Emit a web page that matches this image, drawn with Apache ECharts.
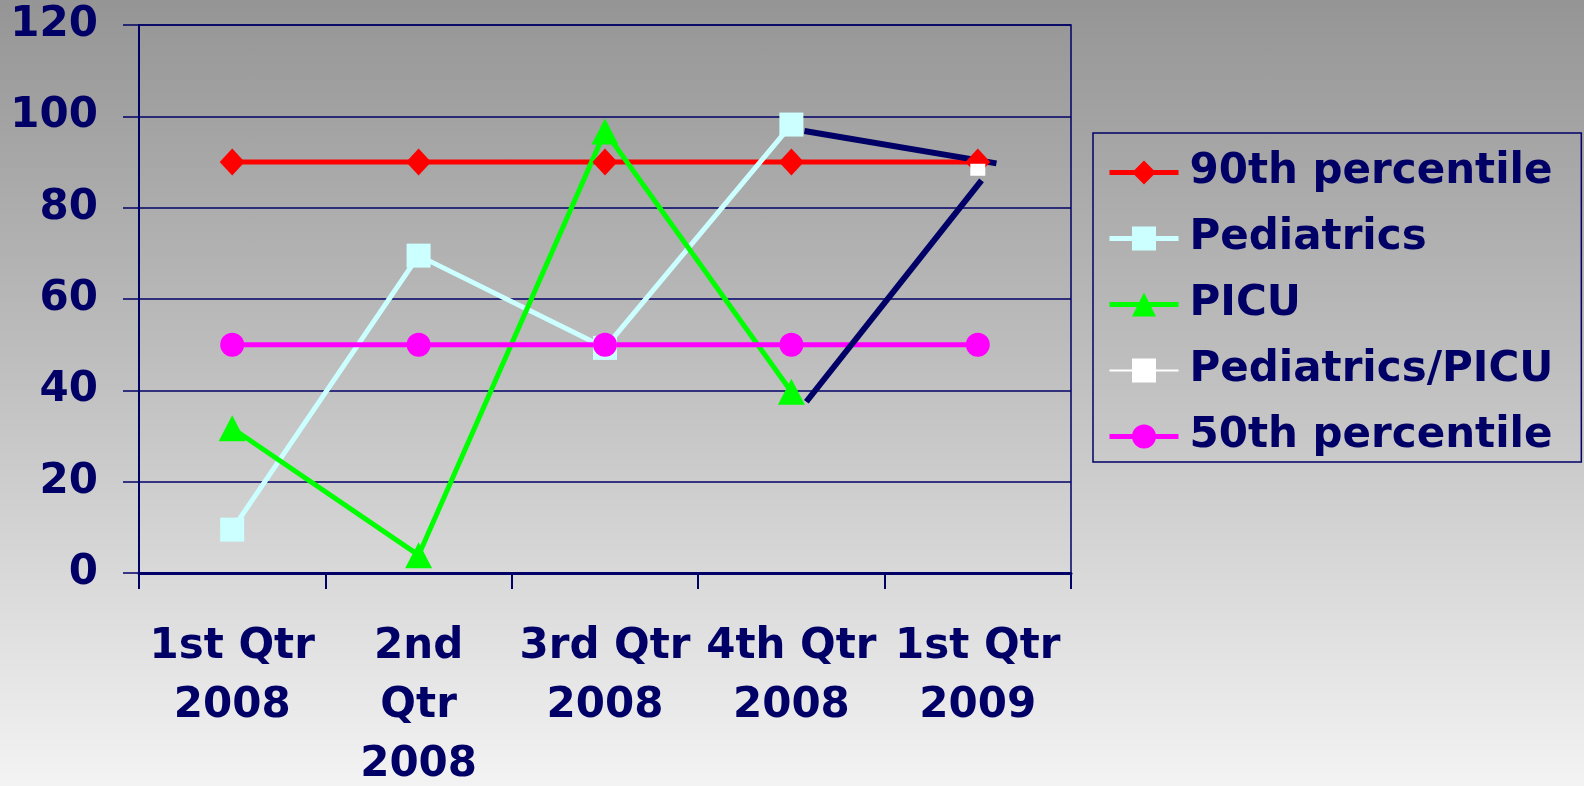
<!DOCTYPE html>
<html>
<head>
<meta charset="utf-8">
<script src="https://cdn.jsdelivr.net/npm/echarts@6/dist/echarts.min.js"></script>
<style>
  html, body { margin: 0; padding: 0; }
  body { width: 1584px; height: 786px; background: linear-gradient(to bottom, #959595 0%, #bdbdbd 45%, #f3f3f3 100%); }
  #chart { width: 1584px; height: 786px; }
</style>
</head>
<body>
<div id="chart"></div>
<script>
const categories = ['1st Qtr\n2008', '2nd\nQtr\n2008', '3rd Qtr\n2008', '4th Qtr\n2008', '1st Qtr\n2009'];
const seriesNames = ['90th percentile', 'Pediatrics', 'PICU', 'Pediatrics/PICU', '50th percentile'];
const p90 = [90, 90, 90, 90, 90];
const pediatrics = [9.5, 69.5, 49.3, 98.2, null];
const picu = [31.7, 3.9, 96.7, 39.7, null];
const pedPicu = [null, null, null, null, 88.3];
const p50 = [50, 50, 50, 50, 50];
const yMin = 0, yMax = 120, yStep = 20;
// two hand-drawn connector lines, in category units (0..5) and values
const connector1 = [[3.57, 96.8], [4.60, 89.7]];
const connector2 = [[3.58, 37.5], [4.52, 86.0]];

const navy = '#000066';
const font = "'DejaVu Sans', Verdana, sans-serif";

const chart = echarts.init(document.getElementById('chart'), null, { renderer: 'canvas' });
chart.setOption({
  backgroundColor: 'transparent',
  animation: false,
  textStyle: { fontFamily: font },
  grid: { left: 139, top: 25, right: 513, bottom: 213, show: true, borderColor: navy, borderWidth: 1.5,
          backgroundColor: 'transparent', containLabel: false, outerBoundsMode: 'none' },
  legend: {
    orient: 'vertical',
    left: 1093, top: 133,
    padding: [18, 28, 4, 14],
    borderColor: navy, borderWidth: 1.5,
    itemWidth: 69, itemHeight: 30, itemGap: 23,
    data: seriesNames,
    lineStyle: { width: 'inherit' },
    textStyle: { color: navy, fontSize: 42, fontWeight: 'bold', fontFamily: font, lineHeight: 40, padding: [3, 0, 0, 6] }
  },
  xAxis: [{
    type: 'category',
    data: categories,
    axisLine: { lineStyle: { color: navy, width: 3 } },
    axisTick: { show: true, length: 16, lineStyle: { color: navy, width: 2 } },
    axisLabel: { color: navy, fontSize: 42, fontWeight: 'bold', fontFamily: font, lineHeight: 59, margin: 45, interval: 0 }
  }, {
    type: 'value', min: 0, max: 5, show: false
  }],
  yAxis: {
    type: 'value', min: yMin, max: yMax, interval: yStep,
    axisLine: { show: true, lineStyle: { color: navy, width: 2 } },
    axisTick: { show: true, length: 16, lineStyle: { color: navy, width: 1.5 } },
    splitLine: { show: true, lineStyle: { color: navy, width: 1.5 } },
    axisLabel: { color: navy, fontSize: 42, fontWeight: 'bold', fontFamily: font, margin: 41 }
  },
  series: [
    { name: seriesNames[0], type: 'line', data: p90, symbol: 'diamond', symbolSize: [25, 27],
      itemStyle: { color: '#ff0000' }, lineStyle: { color: '#ff0000', width: 5 } },
    { name: seriesNames[1], type: 'line', data: pediatrics, symbol: 'rect', symbolSize: 24,
      itemStyle: { color: '#ccffff' }, lineStyle: { color: '#ccffff', width: 5 } },
    { name: seriesNames[2], type: 'line', data: picu, symbol: 'triangle', symbolSize: [27, 26],
      itemStyle: { color: '#00ff00' }, lineStyle: { color: '#00ff00', width: 5 } },
    { name: seriesNames[4], type: 'line', data: p50, symbol: 'circle', symbolSize: 24,
      itemStyle: { color: '#ff00ff' }, lineStyle: { color: '#ff00ff', width: 5 } },
    { name: 'conn1', type: 'line', xAxisIndex: 1, data: connector1, showSymbol: false, symbol: 'none',
      lineStyle: { color: navy, width: 6 }, z: 3 },
    { name: 'conn2', type: 'line', xAxisIndex: 1, data: connector2, showSymbol: false, symbol: 'none',
      lineStyle: { color: navy, width: 6 }, z: 3 },
    { name: seriesNames[3], type: 'line', data: pedPicu, symbol: 'rect', symbolSize: [15, 12], z: 4,
      itemStyle: { color: '#ffffff' }, lineStyle: { color: '#ffffff', width: 2 } }
  ]
});
</script>
</body>
</html>
